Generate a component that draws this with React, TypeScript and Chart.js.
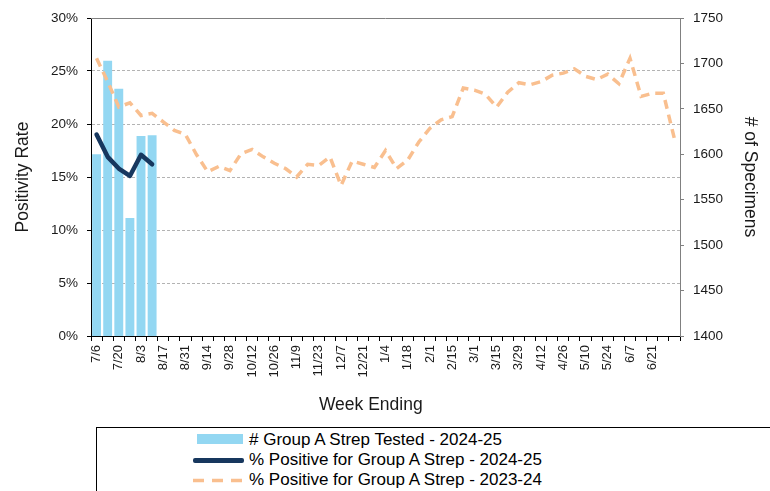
import React, { useEffect, useRef } from 'react';
import { Chart, registerables } from 'chart.js';

Chart.register(...registerables);

const FONT = "'Liberation Sans', Arial, sans-serif";

const weeks = [
  '7/6', '7/13', '7/20', '7/27', '8/3', '8/10', '8/17', '8/24', '8/31', '9/7',
  '9/14', '9/21', '9/28', '10/5', '10/12', '10/19', '10/26', '11/2', '11/9', '11/16',
  '11/23', '11/30', '12/7', '12/14', '12/21', '12/28', '1/4', '1/11', '1/18', '1/25',
  '2/1', '2/8', '2/15', '2/22', '3/1', '3/8', '3/15', '3/22', '3/29', '4/5',
  '4/12', '4/19', '4/26', '5/3', '5/10', '5/17', '5/24', '5/31', '6/7', '6/14',
  '6/21', '6/28', '',
];

const specimensTested2425 = [1600, 1703, 1672, 1530, 1620, 1621];

const positive2425 = [19.0, 16.9, 15.8, 15.1, 17.1, 16.2];

const positive2324 = [
  26.2, 24.0, 21.6, 22.0, 20.8, 21.0, 20.2, 19.4, 19.0, 17.1,
  15.5, 16.0, 15.6, 17.2, 17.6, 16.9, 16.3, 15.8, 15.0, 16.2,
  16.1, 16.9, 14.2, 16.5, 16.2, 15.9, 17.5, 15.8, 16.6, 18.3,
  19.6, 20.4, 20.7, 23.4, 23.2, 22.8, 21.6, 23.0, 23.9, 23.7,
  24.0, 24.6, 24.8, 25.2, 24.5, 24.2, 24.7, 23.8, 26.2, 22.6,
  22.9, 22.9, 18.6,
];

const legendLabels = [
  '# Group A Strep Tested - 2024-25',
  '% Positive for Group A Strep - 2024-25',
  '% Positive for Group A Strep - 2023-24',
];

const xAxisTitle = 'Week Ending';

const BAR_COLOR = '#93d7f2';
const NAVY = '#17375e';
const ORANGE = '#f9bf8f';

const plotFrame = {
  id: 'plotFrame',
  afterDraw(chart: any) {
    const { ctx, chartArea } = chart;
    ctx.save();
    ctx.strokeStyle = '#808080';
    ctx.lineWidth = 1;
    ctx.beginPath();
    ctx.moveTo(chartArea.left, chartArea.top + 0.5);
    ctx.lineTo(chartArea.right, chartArea.top + 0.5);
    ctx.stroke();
    ctx.fillStyle = '#1a1a1a';
    ctx.font = `17.5px ${FONT}`;
    ctx.textAlign = 'center';
    ctx.textBaseline = 'middle';
    ctx.fillText(xAxisTitle, chartArea.left + (chartArea.right - chartArea.left) * 0.475, 405);
    ctx.restore();
  },
};

export default function App() {
  const ref = useRef<HTMLCanvasElement>(null);

  useEffect(() => {
    if (!ref.current) return;
    const chart = new Chart(ref.current, {
      type: 'bar',
      data: {
        labels: weeks,
        datasets: [
          {
            type: 'line',
            label: legendLabels[1],
            data: positive2425,
            yAxisID: 'y',
            borderColor: NAVY,
            backgroundColor: NAVY,
            borderWidth: 4.5,
            pointRadius: 0,
            tension: 0,
            borderCapStyle: 'round',
            borderJoinStyle: 'round',
            order: 0,
          } as any,
          {
            type: 'line',
            label: legendLabels[2],
            data: positive2324,
            yAxisID: 'y',
            borderColor: ORANGE,
            backgroundColor: ORANGE,
            borderWidth: 3.5,
            borderDash: [9, 6],
            pointRadius: 0,
            tension: 0,
            order: 1,
          } as any,
          {
            type: 'bar',
            label: legendLabels[0],
            data: specimensTested2425,
            yAxisID: 'y1',
            backgroundColor: BAR_COLOR,
            categoryPercentage: 1,
            barPercentage: 0.8,
            order: 2,
          } as any,
        ],
      },
      options: {
        responsive: false,
        animation: false,
        devicePixelRatio: 1,
        layout: { padding: { top: 18, left: 0, right: 0, bottom: 0 } },
        plugins: {
          legend: { display: false },
          tooltip: { enabled: false },
        },
        scales: {
          x: {
            offset: true,
            grid: {
              offset: true,
              drawOnChartArea: false,
              drawTicks: true,
              tickLength: 5,
              color: '#000',
              tickColor: '#000',
            },
            border: { color: '#000', width: 1 },
            ticks: {
              autoSkip: false,
              maxRotation: 90,
              minRotation: 90,
              padding: 4,
              color: '#1a1a1a',
              font: { family: FONT, size: 13 },
              callback: (_v: any, i: number) => (i % 2 === 0 ? weeks[i] : ''),
            },
            title: { display: false },
            afterFit: (s: any) => {
              s.height = 84;
            },
          },
          y: {
            position: 'left',
            min: 0,
            max: 30,
            ticks: {
              stepSize: 5,
              padding: 9,
              color: '#1a1a1a',
              font: { family: FONT, size: 13.5 },
              callback: (v: any) => v + '%',
            },
            grid: {
              color: (c: any) => (c.index === 0 || c.index === 6 ? 'rgba(0,0,0,0)' : '#b3b3b3'),
              tickColor: '#000',
              tickLength: 4,
              tickBorderDash: [],
            },
            border: { color: '#000', width: 1, dash: [3, 2] },
            title: {
              display: true,
              text: 'Positivity Rate',
              color: '#1a1a1a',
              font: { family: FONT, size: 17.5 },
              padding: { top: 13, bottom: 0 },
            },
            afterFit: (s: any) => {
              s.width = 91;
            },
          },
          y1: {
            position: 'right',
            min: 1400,
            max: 1750,
            ticks: {
              stepSize: 50,
              padding: 9,
              color: '#1a1a1a',
              font: { family: FONT, size: 13.5 },
              callback: (v: any) => String(v),
            },
            grid: {
              drawOnChartArea: false,
              tickColor: '#808080',
              tickLength: 4,
            },
            border: { color: '#808080', width: 1 },
            title: {
              display: true,
              text: '# of Specimens',
              color: '#1a1a1a',
              font: { family: FONT, size: 17.5 },
              padding: { top: 10, bottom: 0 },
            },
            afterFit: (s: any) => {
              s.width = 90;
            },
          },
        },
      } as any,
      plugins: [plotFrame],
    });
    return () => chart.destroy();
  }, []);

  const textStyle: React.CSSProperties = {
    position: 'absolute',
    left: 249,
    fontFamily: FONT,
    fontSize: 17,
    lineHeight: '20px',
    color: '#000',
    whiteSpace: 'nowrap',
  };

  return (
    <div
      style={{
        position: 'absolute',
        left: 0,
        top: 0,
        width: 770,
        height: 491,
        overflow: 'hidden',
        background: '#fff',
      }}
    >
      <canvas
        ref={ref}
        width={770}
        height={420}
        style={{ position: 'absolute', left: 0, top: 0, width: 770, height: 420 }}
      />
      <div
        style={{
          position: 'absolute',
          left: 96,
          top: 427,
          width: 720,
          height: 100,
          border: '1px solid #000',
          boxSizing: 'border-box',
        }}
      />
      <div
        style={{
          position: 'absolute',
          left: 197,
          top: 434,
          width: 46,
          height: 10,
          background: BAR_COLOR,
        }}
      />
      <div style={{ ...textStyle, top: 430 }}>{legendLabels[0]}</div>
      <div
        style={{
          position: 'absolute',
          left: 193,
          top: 458,
          width: 51,
          height: 4.5,
          borderRadius: 2,
          background: NAVY,
        }}
      />
      <div style={{ ...textStyle, top: 450 }}>{legendLabels[1]}</div>
      <svg
        width={60}
        height={10}
        style={{ position: 'absolute', left: 190, top: 476 }}
      >
        <line
          x1={3}
          y1={4.5}
          x2={54}
          y2={4.5}
          stroke={ORANGE}
          strokeWidth={3.5}
          strokeDasharray="11 8"
        />
      </svg>
      <div style={{ ...textStyle, top: 470 }}>{legendLabels[2]}</div>
    </div>
  );
}
